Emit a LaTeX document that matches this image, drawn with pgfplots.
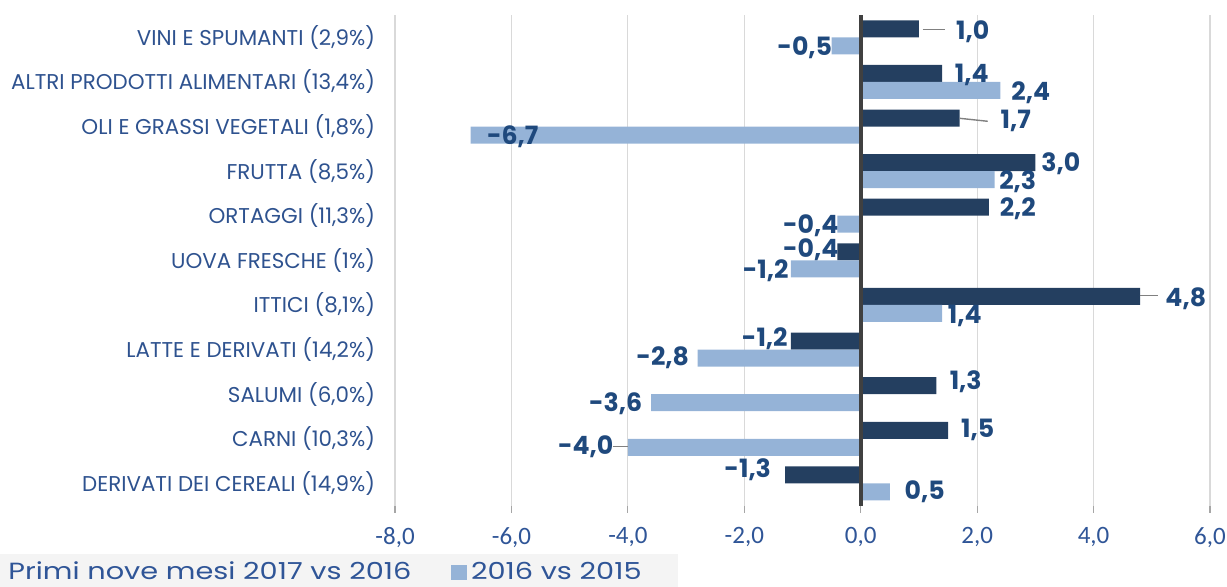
\documentclass[border=0pt]{standalone}
\usepackage{pgfplots}
\pgfplotsset{compat=1.18}
\usepackage{fontspec}
\setmainfont{Poppins}
\newfontfamily\carlito{Carlito}
\newfontfamily\legfont{Poppins}[FakeStretch=1.23]
\definecolor{darkbar}{HTML}{243F60}
\definecolor{lightbar}{HTML}{95B3D7}
\definecolor{lblblue}{HTML}{1F497D}
\definecolor{catblue}{HTML}{2E528F}
\definecolor{tickblue}{HTML}{2F5597}
\definecolor{gridgray}{HTML}{D9D9D9}
\definecolor{tickgray}{HTML}{A6A6A6}
\definecolor{zerogray}{HTML}{404040}
\definecolor{leadgray}{HTML}{808080}
\definecolor{leggray}{HTML}{F4F4F4}
\begin{document}
\begin{tikzpicture}
\begin{axis}[name=ax,
  x=29.1pt, y=22.3pt,
  xmin=-8, xmax=6, ymin=-0.5, ymax=10.5,
  axis line style={draw=none},
  xtick={-8,-6,...,6},
  xticklabels={{-8,0},{-6,0},{-4,0},{-2,0},{0,0},{2,0},{4,0},{6,0}},
  xmajorgrids, grid style={draw=gridgray, line width=0.6pt},
  tick align=outside, xtick pos=lower,
  major tick length=3.5pt,
  xtick style={draw=tickgray, line width=0.6pt},
  xticklabel style={font=\carlito\fontsize{12.5}{14}\selectfont, text=tickblue, yshift=-4pt},
  ytick={0,...,10},
  yticklabels={{DERIVATI DEI CEREALI (14,9\%)},{CARNI (10,3\%)},{SALUMI (6,0\%)},{LATTE E DERIVATI (14,2\%)},{ITTICI (8,1\%)},{UOVA FRESCHE (1\%)},{ORTAGGI (11,3\%)},{FRUTTA (8,5\%)},{OLI E GRASSI VEGETALI (1,8\%)},{ALTRI PRODOTTI ALIMENTARI (13,4\%)},{VINI E SPUMANTI (2,9\%)}},
  ytick style={draw=none},
  yticklabel style={font=\fontsize{10.7}{12}\selectfont, text=catblue, xshift=-3pt},
  legend style={at={(axis description cs:-0.4847,-0.098)}, anchor=north west,
    legend columns=2, fill=leggray, draw=none, text=tickblue,
    font=\legfont\fontsize{11.7}{13}\selectfont, inner sep=2pt,
    /tikz/every even column/.append style={column sep=18pt}},
  legend cell align=left,
]
\addplot[xbar, bar width=8.5pt, bar shift=4.25pt, fill=darkbar, draw=none,
  legend image code/.code={}]
  coordinates {(1.0,10) (1.4,9) (1.7,8) (3.0,7) (2.2,6) (-0.4,5) (4.8,4) (-1.2,3) (1.3,2) (1.5,1) (-1.3,0)};
\addlegendentry{Primi nove mesi 2017 vs 2016}
\addplot[xbar, bar width=8.5pt, bar shift=-4.25pt, fill=lightbar, draw=none,
  legend image code/.code={\fill[lightbar] (0pt,-3.9pt) rectangle (7.8pt,3.9pt);}]
  coordinates {(-0.5,10) (2.4,9) (-6.7,8) (2.3,7) (-0.4,6) (-1.2,5) (1.4,4) (-2.8,3) (-3.6,2) (-4.0,1) (0.5,0)};
\addlegendentry{2016 vs 2015\kern14pt}
\addplot[draw=zerogray, line width=2.1pt, forget plot] coordinates {(0,-0.5) (0,10.5)};
% leader lines
\addplot[draw=leadgray, line width=0.7pt, forget plot] coordinates {(1.065,10.168) (1.443,10.168)};
\addplot[draw=leadgray, line width=0.7pt, forget plot] coordinates {(1.70,8.184) (2.182,8.117)};
\addplot[draw=leadgray, line width=0.7pt, forget plot] coordinates {(4.79,4.215) (5.103,4.215)};
\addplot[draw=leadgray, line width=0.7pt, forget plot] coordinates {(-4.261,0.830) (-4.003,0.830)};
% data labels
\begin{scope}[every node/.style={font=\bfseries\fontsize{12.6}{14}\selectfont, text=lblblue, inner sep=0pt}]
\node at (axis cs:1.924,10.135) {1,0};
\node at (axis cs:-0.962,9.776) {-0,5};
\node at (axis cs:1.907,9.148) {1,4};
\node at (axis cs:2.921,8.767) {2,4};
\node at (axis cs:2.663,8.117) {1,7};
\node at (axis cs:-5.979,7.780) {-6,7};
\node at (axis cs:3.436,7.175) {3,0};
\node at (axis cs:2.698,6.771) {2,3};
\node at (axis cs:2.698,6.166) {2,2};
\node at (axis cs:-0.859,5.785) {-0,4};
\node at (axis cs:-0.859,5.247) {-0,4};
\node at (axis cs:-1.632,4.776) {-1,2};
\node at (axis cs:5.584,4.148) {4,8};
\node at (axis cs:1.787,3.744) {1,4};
\node at (axis cs:-1.649,3.251) {-1,2};
\node at (axis cs:-3.402,2.825) {-2,8};
\node at (axis cs:1.804,2.287) {1,3};
\node at (axis cs:-4.210,1.794) {-3,6};
\node at (axis cs:2.010,1.188) {1,5};
\node at (axis cs:-4.725,0.830) {-4,0};
\node at (axis cs:-1.942,0.314) {-1,3};
\node at (axis cs:1.100,-0.179) {0,5};
\end{scope}
\end{axis}
\pgfresetboundingbox
\path[use as bounding box] ([shift={(-197.5pt,-40.5pt)}]ax.south west) rectangle ([shift={(8.5pt,7.5pt)}]ax.north east);
\end{tikzpicture}
\end{document}
